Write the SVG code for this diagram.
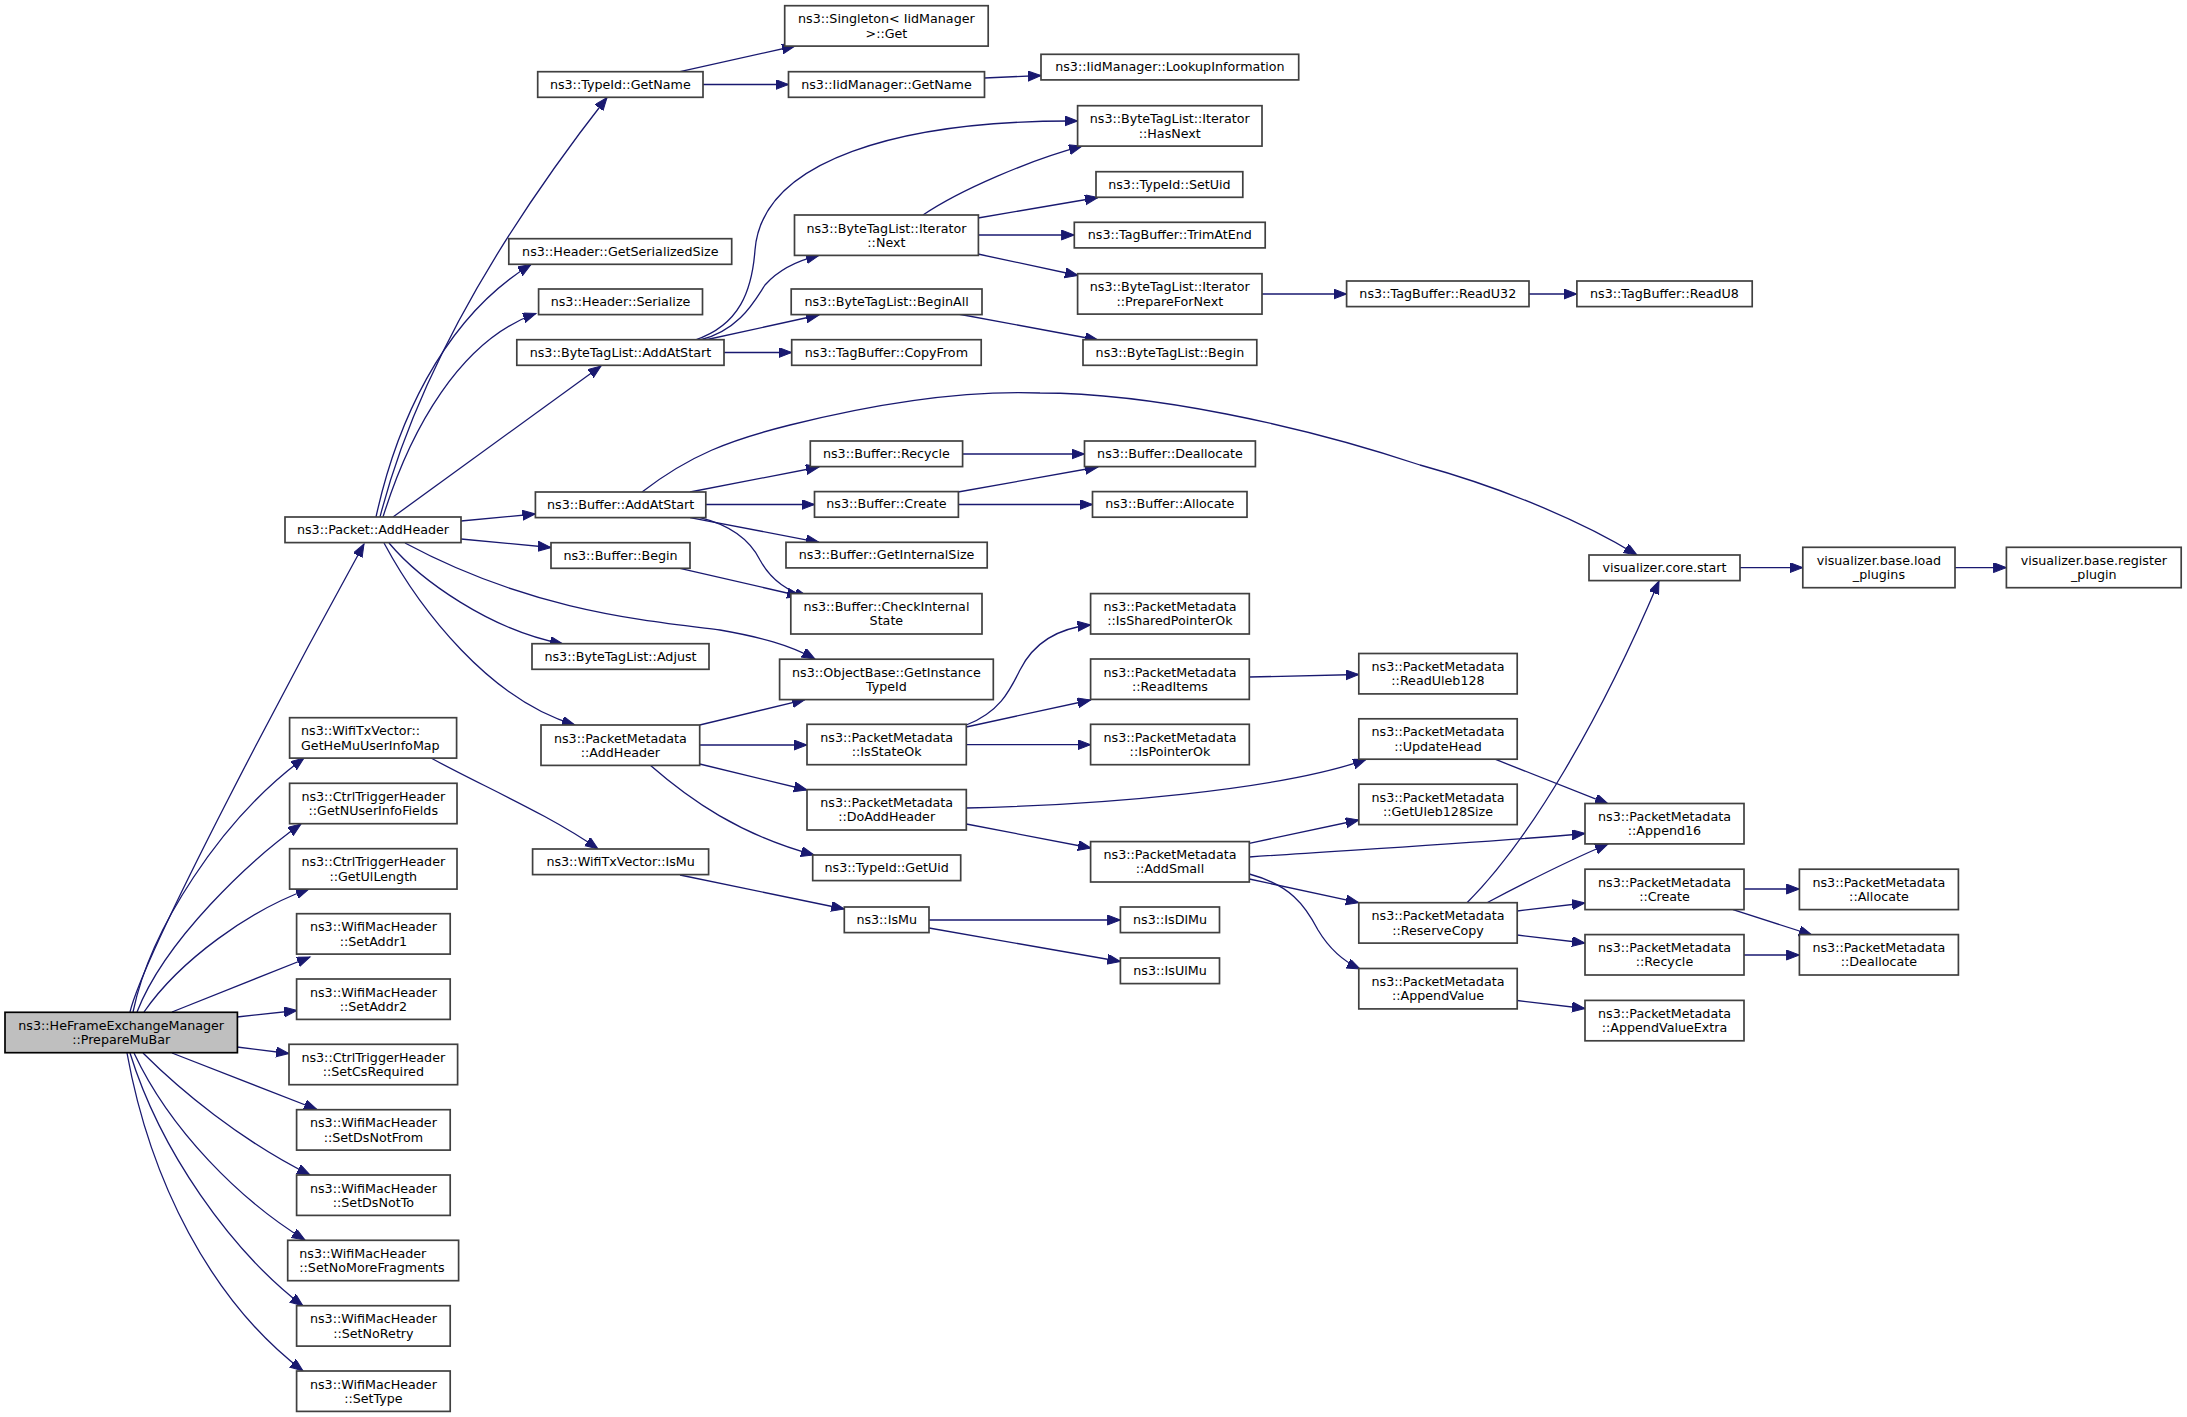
<svg xmlns="http://www.w3.org/2000/svg" width="2187" height="1417" viewBox="0 0 2187 1417">
<style>
.n rect{fill:#fff;stroke:#404040;stroke-width:1.7}
.n.root rect{fill:#bfbfbf;stroke:#000}
text{font-family:"DejaVu Sans",sans-serif;font-size:12.7px;fill:#000;text-anchor:middle}
text.l{text-anchor:start}
#edges path{fill:none;stroke:#191970;stroke-width:1.3;marker-end:url(#arr)}
</style>
<defs>
<marker id="arr" markerUnits="userSpaceOnUse" markerWidth="15" markerHeight="12" refX="13" refY="5" orient="auto">
<path d="M0,0 L13,5 L0,10 z" fill="#191970" stroke="#191970" stroke-width="1"/>
</marker>
</defs>
<rect width="2187" height="1417" fill="#fff"/>
<g id="edges">
<path d="M130,1012 C145,950 300,660 364,544"/>
<path d="M133,1012 C150,930 220,820 304,758"/>
<path d="M137,1012 C165,940 250,860 301,824"/>
<path d="M144,1012 C180,960 250,910 309,889"/>
<path d="M172,1012 L310,957"/>
<path d="M237,1017 L297,1010.5"/>
<path d="M237,1047 L289,1053.5"/>
<path d="M172,1053 L317,1109.5"/>
<path d="M143,1053 C180,1090 240,1140 310,1175"/>
<path d="M134,1053 C170,1130 240,1200 305,1240"/>
<path d="M130,1053 C160,1150 230,1250 303,1306"/>
<path d="M127,1053 C150,1180 210,1300 303,1371"/>
<path d="M380,517 C410,400 480,260 607,97.5"/>
<path d="M376,517 C395,430 440,320 531,264.5"/>
<path d="M383,517 C410,430 460,340 536,313.5"/>
<path d="M393,517 L601,366"/>
<path d="M461,521 L535.4,514"/>
<path d="M461,539 L551,547.5"/>
<path d="M389,543 C420,580 490,630 563,644"/>
<path d="M405,543 C530,610 640,620 720,630 C760,637 790,645 815,659"/>
<path d="M384,543 C420,610 490,700 575,725"/>
<path d="M431,758 C480,785 550,815 598,849"/>
<path d="M680,875 L844.3,909"/>
<path d="M680,71.7 L795,46"/>
<path d="M703,84.5 L788.5,84.5"/>
<path d="M984.5,78 L1041,75.5"/>
<path d="M695,340 C740,325 752,290 755,250 C762,160 900,120 1077.6,121"/>
<path d="M700,340 C740,330 755,300 765,285 C780,268 800,260 819,255.4"/>
<path d="M705,340 L819,315"/>
<path d="M724,352.5 L791.7,352.5"/>
<path d="M923,215 C960,190 1030,160 1082,146.2"/>
<path d="M978,218 L1098,197.5"/>
<path d="M978.4,235 L1074.3,235"/>
<path d="M978,254 L1078,275.5"/>
<path d="M1262,294 L1346.6,294"/>
<path d="M1529,294 L1576.9,294"/>
<path d="M958,314 L1098,340"/>
<path d="M642,492 C690,455 730,440 790,425 C870,405 960,390 1040,393 C1150,393 1300,425 1420,465 C1500,487 1580,520 1637,555"/>
<path d="M690,492 L819,467"/>
<path d="M705.8,504.5 L814.5,504.5"/>
<path d="M690,517.6 L819,542.3"/>
<path d="M700,517.6 C730,525 750,540 760,560 C772,582 790,592 808,597"/>
<path d="M680,568.3 L800,596"/>
<path d="M962.6,454 L1084.5,454"/>
<path d="M958,492 L1098,467"/>
<path d="M958.4,504.5 L1092.5,504.5"/>
<path d="M699.7,725 L805,699.6"/>
<path d="M699.7,745 L807,745"/>
<path d="M699.7,764 L807,790"/>
<path d="M650,765 C690,800 740,835 814,855"/>
<path d="M966.3,725 C1000,712 1010,690 1020,670 C1035,640 1060,628 1090.6,625"/>
<path d="M966.3,727 L1090.6,700"/>
<path d="M966.3,744.7 L1090.6,744.7"/>
<path d="M966.3,808 C1100,805 1280,790 1366,759.5"/>
<path d="M966.3,824 L1091,848"/>
<path d="M1249.3,843.3 L1358.8,820"/>
<path d="M1249.3,857 C1350,850 1480,843 1585,833.5"/>
<path d="M1249.3,879 L1358.8,902.7"/>
<path d="M1249.3,874 C1290,885 1305,905 1318,930 C1330,950 1345,962 1360,969"/>
<path d="M1249.3,677 L1358.8,674.5"/>
<path d="M1495,759.2 L1608,803.8"/>
<path d="M1467,902.7 C1530,840 1600,720 1659,581"/>
<path d="M1487,902.7 C1530,880 1570,860 1608,844"/>
<path d="M1517.2,911 L1585,903"/>
<path d="M1517.2,935 L1585,943"/>
<path d="M1517.2,1000.5 L1585,1008.5"/>
<path d="M1744,889 L1799.4,889"/>
<path d="M1733,909.6 L1812,935"/>
<path d="M1744,955 L1799.4,955"/>
<path d="M1740,567.6 L1802.8,567.6"/>
<path d="M1955,567.6 L2006.4,567.6"/>
<path d="M929,920 L1120.4,920"/>
<path d="M929,928 L1120.4,961.5"/>
</g>
<g id="n0" class="n root"><rect x="5" y="1012.3" width="232.4" height="40.4"/><text x="121.2" y="1029.8">ns3::HeFrameExchangeManager</text><text x="121.2" y="1044.1">::PrepareMuBar</text></g>
<g id="n1" class="n"><rect x="285" y="517" width="176" height="25.6"/><text x="373" y="534">ns3::Packet::AddHeader</text></g>
<g id="n2" class="n"><rect x="289.6" y="717.7" width="167" height="40.4"/><text class="l" x="301" y="735.2">ns3::WifiTxVector::</text><text class="l" x="301" y="749.5">GetHeMuUserInfoMap</text></g>
<g id="n3" class="n"><rect x="289.6" y="783.3" width="167.4" height="40.4"/><text x="373.3" y="800.8">ns3::CtrlTriggerHeader</text><text x="373.3" y="815.1">::GetNUserInfoFields</text></g>
<g id="n4" class="n"><rect x="289.6" y="848.7" width="167.4" height="40.4"/><text x="373.3" y="866.2">ns3::CtrlTriggerHeader</text><text x="373.3" y="880.5">::GetUlLength</text></g>
<g id="n5" class="n"><rect x="296.6" y="913.7" width="153.6" height="40.4"/><text x="373.4" y="931.2">ns3::WifiMacHeader</text><text x="373.4" y="945.5">::SetAddr1</text></g>
<g id="n6" class="n"><rect x="296.6" y="979" width="153.6" height="40.4"/><text x="373.4" y="996.5">ns3::WifiMacHeader</text><text x="373.4" y="1010.8">::SetAddr2</text></g>
<g id="n7" class="n"><rect x="289" y="1044.3" width="168.6" height="40.4"/><text x="373.3" y="1061.8">ns3::CtrlTriggerHeader</text><text x="373.3" y="1076.1">::SetCsRequired</text></g>
<g id="n8" class="n"><rect x="296.6" y="1109.7" width="153.6" height="40.4"/><text x="373.4" y="1127.2">ns3::WifiMacHeader</text><text x="373.4" y="1141.5">::SetDsNotFrom</text></g>
<g id="n9" class="n"><rect x="296.6" y="1175" width="153.6" height="40.4"/><text x="373.4" y="1192.5">ns3::WifiMacHeader</text><text x="373.4" y="1206.8">::SetDsNotTo</text></g>
<g id="n10" class="n"><rect x="287.7" y="1240.3" width="170.9" height="40.4"/><text class="l" x="299.3" y="1257.8">ns3::WifiMacHeader</text><text class="l" x="299.3" y="1272.1">::SetNoMoreFragments</text></g>
<g id="n11" class="n"><rect x="296.6" y="1305.7" width="153.6" height="40.4"/><text x="373.4" y="1323.2">ns3::WifiMacHeader</text><text x="373.4" y="1337.5">::SetNoRetry</text></g>
<g id="n12" class="n"><rect x="296.6" y="1371" width="153.6" height="40.4"/><text x="373.4" y="1388.5">ns3::WifiMacHeader</text><text x="373.4" y="1402.8">::SetType</text></g>
<g id="n13" class="n"><rect x="537.7" y="71.7" width="165.3" height="25.6"/><text x="620.3" y="88.5">ns3::TypeId::GetName</text></g>
<g id="n14" class="n"><rect x="508.8" y="238.7" width="222.9" height="25.6"/><text x="620.3" y="255.5">ns3::Header::GetSerializedSize</text></g>
<g id="n15" class="n"><rect x="538.6" y="289" width="163.9" height="25.6"/><text x="620.5" y="305.8">ns3::Header::Serialize</text></g>
<g id="n16" class="n"><rect x="516.8" y="339.7" width="207.2" height="25.6"/><text x="620.4" y="356.5">ns3::ByteTagList::AddAtStart</text></g>
<g id="n17" class="n"><rect x="535.4" y="492" width="170.4" height="25.6"/><text x="620.6" y="508.8">ns3::Buffer::AddAtStart</text></g>
<g id="n18" class="n"><rect x="551" y="542.7" width="139" height="25.6"/><text x="620.5" y="559.5">ns3::Buffer::Begin</text></g>
<g id="n19" class="n"><rect x="532" y="643.7" width="177" height="25.6"/><text x="620.5" y="660.5">ns3::ByteTagList::Adjust</text></g>
<g id="n20" class="n"><rect x="541" y="725" width="158.7" height="40.4"/><text x="620.4" y="742.5">ns3::PacketMetadata</text><text x="620.4" y="756.8">::AddHeader</text></g>
<g id="n21" class="n"><rect x="532.6" y="849" width="176" height="25.6"/><text x="620.6" y="865.8">ns3::WifiTxVector::IsMu</text></g>
<g id="n22" class="n"><rect x="784.7" y="5.7" width="203.5" height="40.4"/><text x="886.4" y="23.2">ns3::Singleton&lt; IidManager</text><text x="886.4" y="37.5">&gt;::Get</text></g>
<g id="n23" class="n"><rect x="788.5" y="71.7" width="196" height="25.6"/><text x="886.5" y="88.5">ns3::IidManager::GetName</text></g>
<g id="n24" class="n"><rect x="794.5" y="215" width="183.9" height="40.4"/><text x="886.4" y="232.5">ns3::ByteTagList::Iterator</text><text x="886.4" y="246.8">::Next</text></g>
<g id="n25" class="n"><rect x="791.2" y="289" width="190.8" height="25.6"/><text x="886.6" y="305.8">ns3::ByteTagList::BeginAll</text></g>
<g id="n26" class="n"><rect x="791.7" y="339.7" width="189.5" height="25.6"/><text x="886.4" y="356.5">ns3::TagBuffer::CopyFrom</text></g>
<g id="n27" class="n"><rect x="810.3" y="441" width="152.3" height="25.6"/><text x="886.4" y="457.8">ns3::Buffer::Recycle</text></g>
<g id="n28" class="n"><rect x="814.5" y="491.6" width="143.9" height="25.6"/><text x="886.4" y="508.4">ns3::Buffer::Create</text></g>
<g id="n29" class="n"><rect x="786" y="542.3" width="201.2" height="25.6"/><text x="886.6" y="559.1">ns3::Buffer::GetInternalSize</text></g>
<g id="n30" class="n"><rect x="790.8" y="593.6" width="191.2" height="40.4"/><text x="886.4" y="611.1">ns3::Buffer::CheckInternal</text><text x="886.4" y="625.4">State</text></g>
<g id="n31" class="n"><rect x="779.6" y="659.2" width="213.7" height="40.4"/><text x="886.4" y="676.7">ns3::ObjectBase::GetInstance</text><text x="886.4" y="691">TypeId</text></g>
<g id="n32" class="n"><rect x="807" y="724.3" width="159.3" height="40.4"/><text x="886.7" y="741.8">ns3::PacketMetadata</text><text x="886.7" y="756.1">::IsStateOk</text></g>
<g id="n33" class="n"><rect x="807" y="789.6" width="159.3" height="40.4"/><text x="886.7" y="807.1">ns3::PacketMetadata</text><text x="886.7" y="821.4">::DoAddHeader</text></g>
<g id="n34" class="n"><rect x="812.7" y="855" width="148" height="25.6"/><text x="886.7" y="871.8">ns3::TypeId::GetUid</text></g>
<g id="n35" class="n"><rect x="844.3" y="907" width="84.7" height="25.6"/><text x="886.7" y="923.8">ns3::IsMu</text></g>
<g id="n36" class="n"><rect x="1041" y="54.3" width="257.7" height="25.6"/><text x="1169.9" y="71.1">ns3::IidManager::LookupInformation</text></g>
<g id="n37" class="n"><rect x="1077.6" y="105.7" width="184.4" height="40.4"/><text x="1169.8" y="123.2">ns3::ByteTagList::Iterator</text><text x="1169.8" y="137.5">::HasNext</text></g>
<g id="n38" class="n"><rect x="1096" y="171.7" width="146.8" height="25.6"/><text x="1169.4" y="188.5">ns3::TypeId::SetUid</text></g>
<g id="n39" class="n"><rect x="1074.3" y="222.3" width="190.9" height="25.6"/><text x="1169.8" y="239.1">ns3::TagBuffer::TrimAtEnd</text></g>
<g id="n40" class="n"><rect x="1077.6" y="273.7" width="184.4" height="40.4"/><text x="1169.8" y="291.2">ns3::ByteTagList::Iterator</text><text x="1169.8" y="305.5">::PrepareForNext</text></g>
<g id="n41" class="n"><rect x="1083" y="339.7" width="173.8" height="25.6"/><text x="1169.9" y="356.5">ns3::ByteTagList::Begin</text></g>
<g id="n42" class="n"><rect x="1084.5" y="441" width="170.9" height="25.6"/><text x="1170" y="457.8">ns3::Buffer::Deallocate</text></g>
<g id="n43" class="n"><rect x="1092.5" y="491.6" width="154.5" height="25.6"/><text x="1169.8" y="508.4">ns3::Buffer::Allocate</text></g>
<g id="n44" class="n"><rect x="1090.6" y="593.6" width="158.7" height="40.4"/><text x="1170" y="611.1">ns3::PacketMetadata</text><text x="1170" y="625.4">::IsSharedPointerOk</text></g>
<g id="n45" class="n"><rect x="1090.6" y="659" width="158.7" height="40.4"/><text x="1170" y="676.5">ns3::PacketMetadata</text><text x="1170" y="690.8">::ReadItems</text></g>
<g id="n46" class="n"><rect x="1090.6" y="724.3" width="158.7" height="40.4"/><text x="1170" y="741.8">ns3::PacketMetadata</text><text x="1170" y="756.1">::IsPointerOk</text></g>
<g id="n47" class="n"><rect x="1090.6" y="841.6" width="158.7" height="40.4"/><text x="1170" y="859.1">ns3::PacketMetadata</text><text x="1170" y="873.4">::AddSmall</text></g>
<g id="n48" class="n"><rect x="1120.4" y="907" width="99.1" height="25.6"/><text x="1170" y="923.8">ns3::IsDlMu</text></g>
<g id="n49" class="n"><rect x="1120.4" y="958" width="99.1" height="25.6"/><text x="1170" y="974.8">ns3::IsUlMu</text></g>
<g id="n50" class="n"><rect x="1346.6" y="281" width="182.4" height="25.6"/><text x="1437.8" y="297.8">ns3::TagBuffer::ReadU32</text></g>
<g id="n51" class="n"><rect x="1358.8" y="653.5" width="158.4" height="40.4"/><text x="1438" y="671">ns3::PacketMetadata</text><text x="1438" y="685.3">::ReadUleb128</text></g>
<g id="n52" class="n"><rect x="1358.8" y="718.8" width="158.4" height="40.4"/><text x="1438" y="736.3">ns3::PacketMetadata</text><text x="1438" y="750.6">::UpdateHead</text></g>
<g id="n53" class="n"><rect x="1358.8" y="784.2" width="158.4" height="40.4"/><text x="1438" y="801.7">ns3::PacketMetadata</text><text x="1438" y="816">::GetUleb128Size</text></g>
<g id="n54" class="n"><rect x="1358.8" y="902.7" width="158.4" height="40.4"/><text x="1438" y="920.2">ns3::PacketMetadata</text><text x="1438" y="934.5">::ReserveCopy</text></g>
<g id="n55" class="n"><rect x="1358.8" y="968.5" width="158.4" height="40.4"/><text x="1438" y="986">ns3::PacketMetadata</text><text x="1438" y="1000.3">::AppendValue</text></g>
<g id="n56" class="n"><rect x="1576.9" y="281" width="175.3" height="25.6"/><text x="1664.5" y="297.8">ns3::TagBuffer::ReadU8</text></g>
<g id="n57" class="n"><rect x="1589" y="555" width="151" height="25.6"/><text x="1664.5" y="571.8">visualizer.core.start</text></g>
<g id="n58" class="n"><rect x="1585" y="803.5" width="159" height="40.4"/><text x="1664.5" y="821">ns3::PacketMetadata</text><text x="1664.5" y="835.3">::Append16</text></g>
<g id="n59" class="n"><rect x="1585" y="869.2" width="159" height="40.4"/><text x="1664.5" y="886.7">ns3::PacketMetadata</text><text x="1664.5" y="901">::Create</text></g>
<g id="n60" class="n"><rect x="1585" y="934.6" width="159" height="40.4"/><text x="1664.5" y="952.1">ns3::PacketMetadata</text><text x="1664.5" y="966.4">::Recycle</text></g>
<g id="n61" class="n"><rect x="1585" y="1000.4" width="159" height="40.4"/><text x="1664.5" y="1017.9">ns3::PacketMetadata</text><text x="1664.5" y="1032.2">::AppendValueExtra</text></g>
<g id="n62" class="n"><rect x="1802.8" y="547.3" width="152.2" height="40.4"/><text x="1878.9" y="564.8">visualizer.base.load</text><text x="1878.9" y="579.1">_plugins</text></g>
<g id="n63" class="n"><rect x="1799.4" y="869.2" width="159" height="40.4"/><text x="1878.9" y="886.7">ns3::PacketMetadata</text><text x="1878.9" y="901">::Allocate</text></g>
<g id="n64" class="n"><rect x="1799.4" y="934.6" width="159" height="40.4"/><text x="1878.9" y="952.1">ns3::PacketMetadata</text><text x="1878.9" y="966.4">::Deallocate</text></g>
<g id="n65" class="n"><rect x="2006.4" y="547.3" width="174.8" height="40.4"/><text x="2093.8" y="564.8">visualizer.base.register</text><text x="2093.8" y="579.1">_plugin</text></g>
</svg>
